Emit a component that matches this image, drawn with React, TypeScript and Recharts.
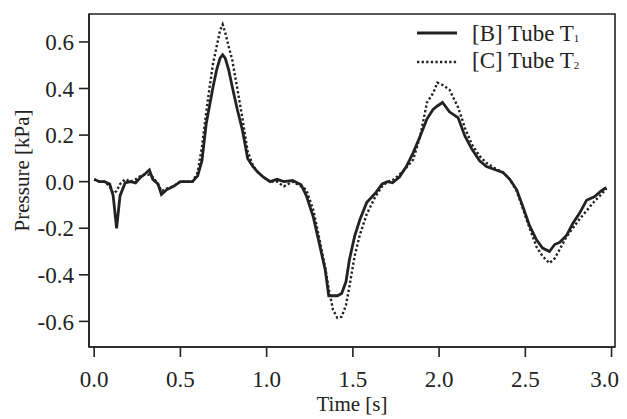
import React from 'react';
import { LineChart, Line, XAxis, YAxis, Legend, Label, ReferenceArea } from 'recharts';

const times = [
  0.0, 0.03, 0.06, 0.09, 0.11, 0.13, 0.15, 0.18, 0.21, 0.24, 0.27, 0.29, 0.32, 0.34, 0.37, 0.39, 0.42, 0.46, 0.5,
  0.54, 0.57, 0.6, 0.625, 0.65, 0.67, 0.69, 0.71, 0.73, 0.745, 0.76, 0.78, 0.8, 0.83, 0.86, 0.89, 0.92, 0.95, 0.98,
  1.02, 1.06, 1.1, 1.15, 1.2, 1.23, 1.27, 1.31, 1.34, 1.36, 1.385, 1.41, 1.435, 1.46, 1.48, 1.51, 1.54, 1.58, 1.63,
  1.67, 1.7, 1.73, 1.77, 1.81, 1.85, 1.89, 1.93, 1.965, 1.99, 2.02, 2.06, 2.09, 2.11, 2.15, 2.19, 2.235, 2.275, 2.33,
  2.37, 2.41, 2.45, 2.485, 2.525, 2.565, 2.6, 2.64, 2.67, 2.7, 2.74, 2.775, 2.815, 2.855, 2.9, 2.94, 2.97,
];

const tubeT1 = [
  0.01, 0.0, 0.0, -0.01, -0.06, -0.2, -0.06, -0.005, 0.0, -0.005, 0.02, 0.03, 0.05, 0.01, -0.01, -0.055, -0.035, -0.02, 0.0,
  0.0, 0.0, 0.025, 0.09, 0.25, 0.33, 0.41, 0.48, 0.53, 0.545, 0.53, 0.48, 0.41, 0.31, 0.22, 0.1, 0.065, 0.04, 0.02,
  0.0, 0.01, 0.0, 0.005, -0.013, -0.06, -0.15, -0.28, -0.38, -0.49, -0.49, -0.49, -0.48, -0.43, -0.335, -0.235, -0.165, -0.09, -0.05,
  -0.01, 0.0, -0.005, 0.02, 0.065, 0.125, 0.195, 0.27, 0.31, 0.325, 0.34, 0.3, 0.285, 0.275, 0.195, 0.14, 0.09, 0.065, 0.05,
  0.04, 0.01, -0.035, -0.105, -0.19, -0.25, -0.285, -0.3, -0.27, -0.26, -0.23, -0.18, -0.135, -0.08, -0.065, -0.04, -0.025,
];

const tubeT2 = [
  0.01, 0.0, 0.0, -0.02, -0.05, -0.04, -0.01, 0.01, 0.0, 0.01, 0.025, 0.03, 0.03, 0.02, -0.01, -0.04, -0.03, -0.02, 0.0,
  0.0, 0.0, 0.04, 0.15, 0.3, 0.41, 0.51, 0.58, 0.65, 0.675, 0.64, 0.58, 0.525, 0.4, 0.27, 0.13, 0.07, 0.04, 0.02,
  0.0, 0.0, -0.02, 0.0, -0.02, -0.035, -0.12, -0.26, -0.37, -0.46, -0.55, -0.585, -0.58, -0.53, -0.45, -0.32, -0.23, -0.14, -0.065,
  -0.02, 0.0, 0.005, 0.03, 0.06, 0.095, 0.195, 0.34, 0.38, 0.425, 0.415, 0.395, 0.35, 0.32, 0.23, 0.16, 0.11, 0.08, 0.055,
  0.04, 0.01, -0.04, -0.115, -0.2, -0.28, -0.32, -0.35, -0.33, -0.29, -0.235, -0.2, -0.16, -0.125, -0.085, -0.055, -0.03,
];

const xTicks = [0, 0.5, 1, 1.5, 2, 2.5, 3];
const yTicks = [-0.6, -0.4, -0.2, 0, 0.2, 0.4, 0.6];
const xDomain = [-0.03, 3.02];
const yDomain = [-0.71, 0.72];
const seriesNames = ['[B] Tube T', '[C] Tube T'];
const seriesSubs = ['1', '2'];

const data = times.map((t, i) => ({ t, b: tubeT1[i], c: tubeT2[i] }));

const FONT = '"Liberation Serif", "Times New Roman", serif';
const INK = '#222';
const DOTS = '2.3 2.3';

const fmt = (v: number) => v.toFixed(1);

const renderLegend = () => (
  <svg width={210} height={60} style={{ display: 'block' }}>
    {[0, 1].map((i) => (
      <g key={i}>
        <line
          x1={8}
          x2={48}
          y1={13 + i * 29}
          y2={13 + i * 29}
          stroke={INK}
          strokeWidth={i === 0 ? 2.8 : 2.4}
          strokeDasharray={i === 0 ? undefined : DOTS}
        />
        <text x={63} y={21 + i * 27} fontFamily={FONT} fontSize={23} fill={INK}>
          {seriesNames[i]}
          <tspan fontSize={11} dy={1}>{seriesSubs[i]}</tspan>
        </text>
      </g>
    ))}
  </svg>
);

const YLabel = (props: any) => {
  const vb = props.viewBox || { x: 0, y: 0, width: 0, height: 0 };
  const cx = vb.x + 14;
  const cy = vb.y + vb.height / 2 - 10;
  return (
    <text
      x={cx}
      y={cy}
      transform={`rotate(-90 ${cx} ${cy})`}
      textAnchor="middle"
      dominantBaseline="central"
      fontFamily={FONT}
      fontSize={21}
      fill={INK}
    >
      Pressure [kPa]
    </text>
  );
};

export default function App() {
  const tickStyle = { fontFamily: FONT, fontSize: 23, fill: INK };
  return (
    <LineChart width={611} height={411} data={data} margin={{ top: 6, right: 4, left: 0, bottom: 0 }}>
      <XAxis
        dataKey="t"
        type="number"
        domain={xDomain}
        ticks={xTicks}
        tickFormatter={fmt}
        tick={tickStyle}
        tickSize={10}
        tickMargin={14}
        height={72}
        stroke={INK}
        strokeWidth={1.6}
        allowDataOverflow
      >
        <Label value="Time [s]" position="insideBottom" offset={8} style={{ fontFamily: FONT, fontSize: 21, fill: INK }} />
      </XAxis>
      <YAxis
        type="number"
        domain={yDomain}
        ticks={yTicks}
        tickFormatter={fmt}
        tick={tickStyle}
        tickSize={10}
        tickMargin={5}
        width={81}
        stroke={INK}
        strokeWidth={1.6}
        allowDataOverflow
      >
        <Label content={<YLabel />} />
      </YAxis>
      <ReferenceArea
        x1={xDomain[0]}
        x2={xDomain[1]}
        y1={yDomain[0]}
        y2={yDomain[1]}
        fill="none"
        fillOpacity={0}
        stroke={INK}
        strokeWidth={1.6}
        ifOverflow="visible"
      />
      <Legend
        layout="vertical"
        verticalAlign="middle"
        align="center"
        content={renderLegend}
        wrapperStyle={{ position: 'absolute', left: 401, top: 12, width: 210, height: 60 }}
      />
      <Line
        type="linear"
        dataKey="c"
        name="[C] Tube T2"
        stroke={INK}
        strokeWidth={2.4}
        strokeDasharray={DOTS}
        dot={false}
        isAnimationActive={false}
      />
      <Line
        type="linear"
        dataKey="b"
        name="[B] Tube T1"
        stroke={INK}
        strokeWidth={2.8}
        dot={false}
        isAnimationActive={false}
      />
    </LineChart>
  );
}
